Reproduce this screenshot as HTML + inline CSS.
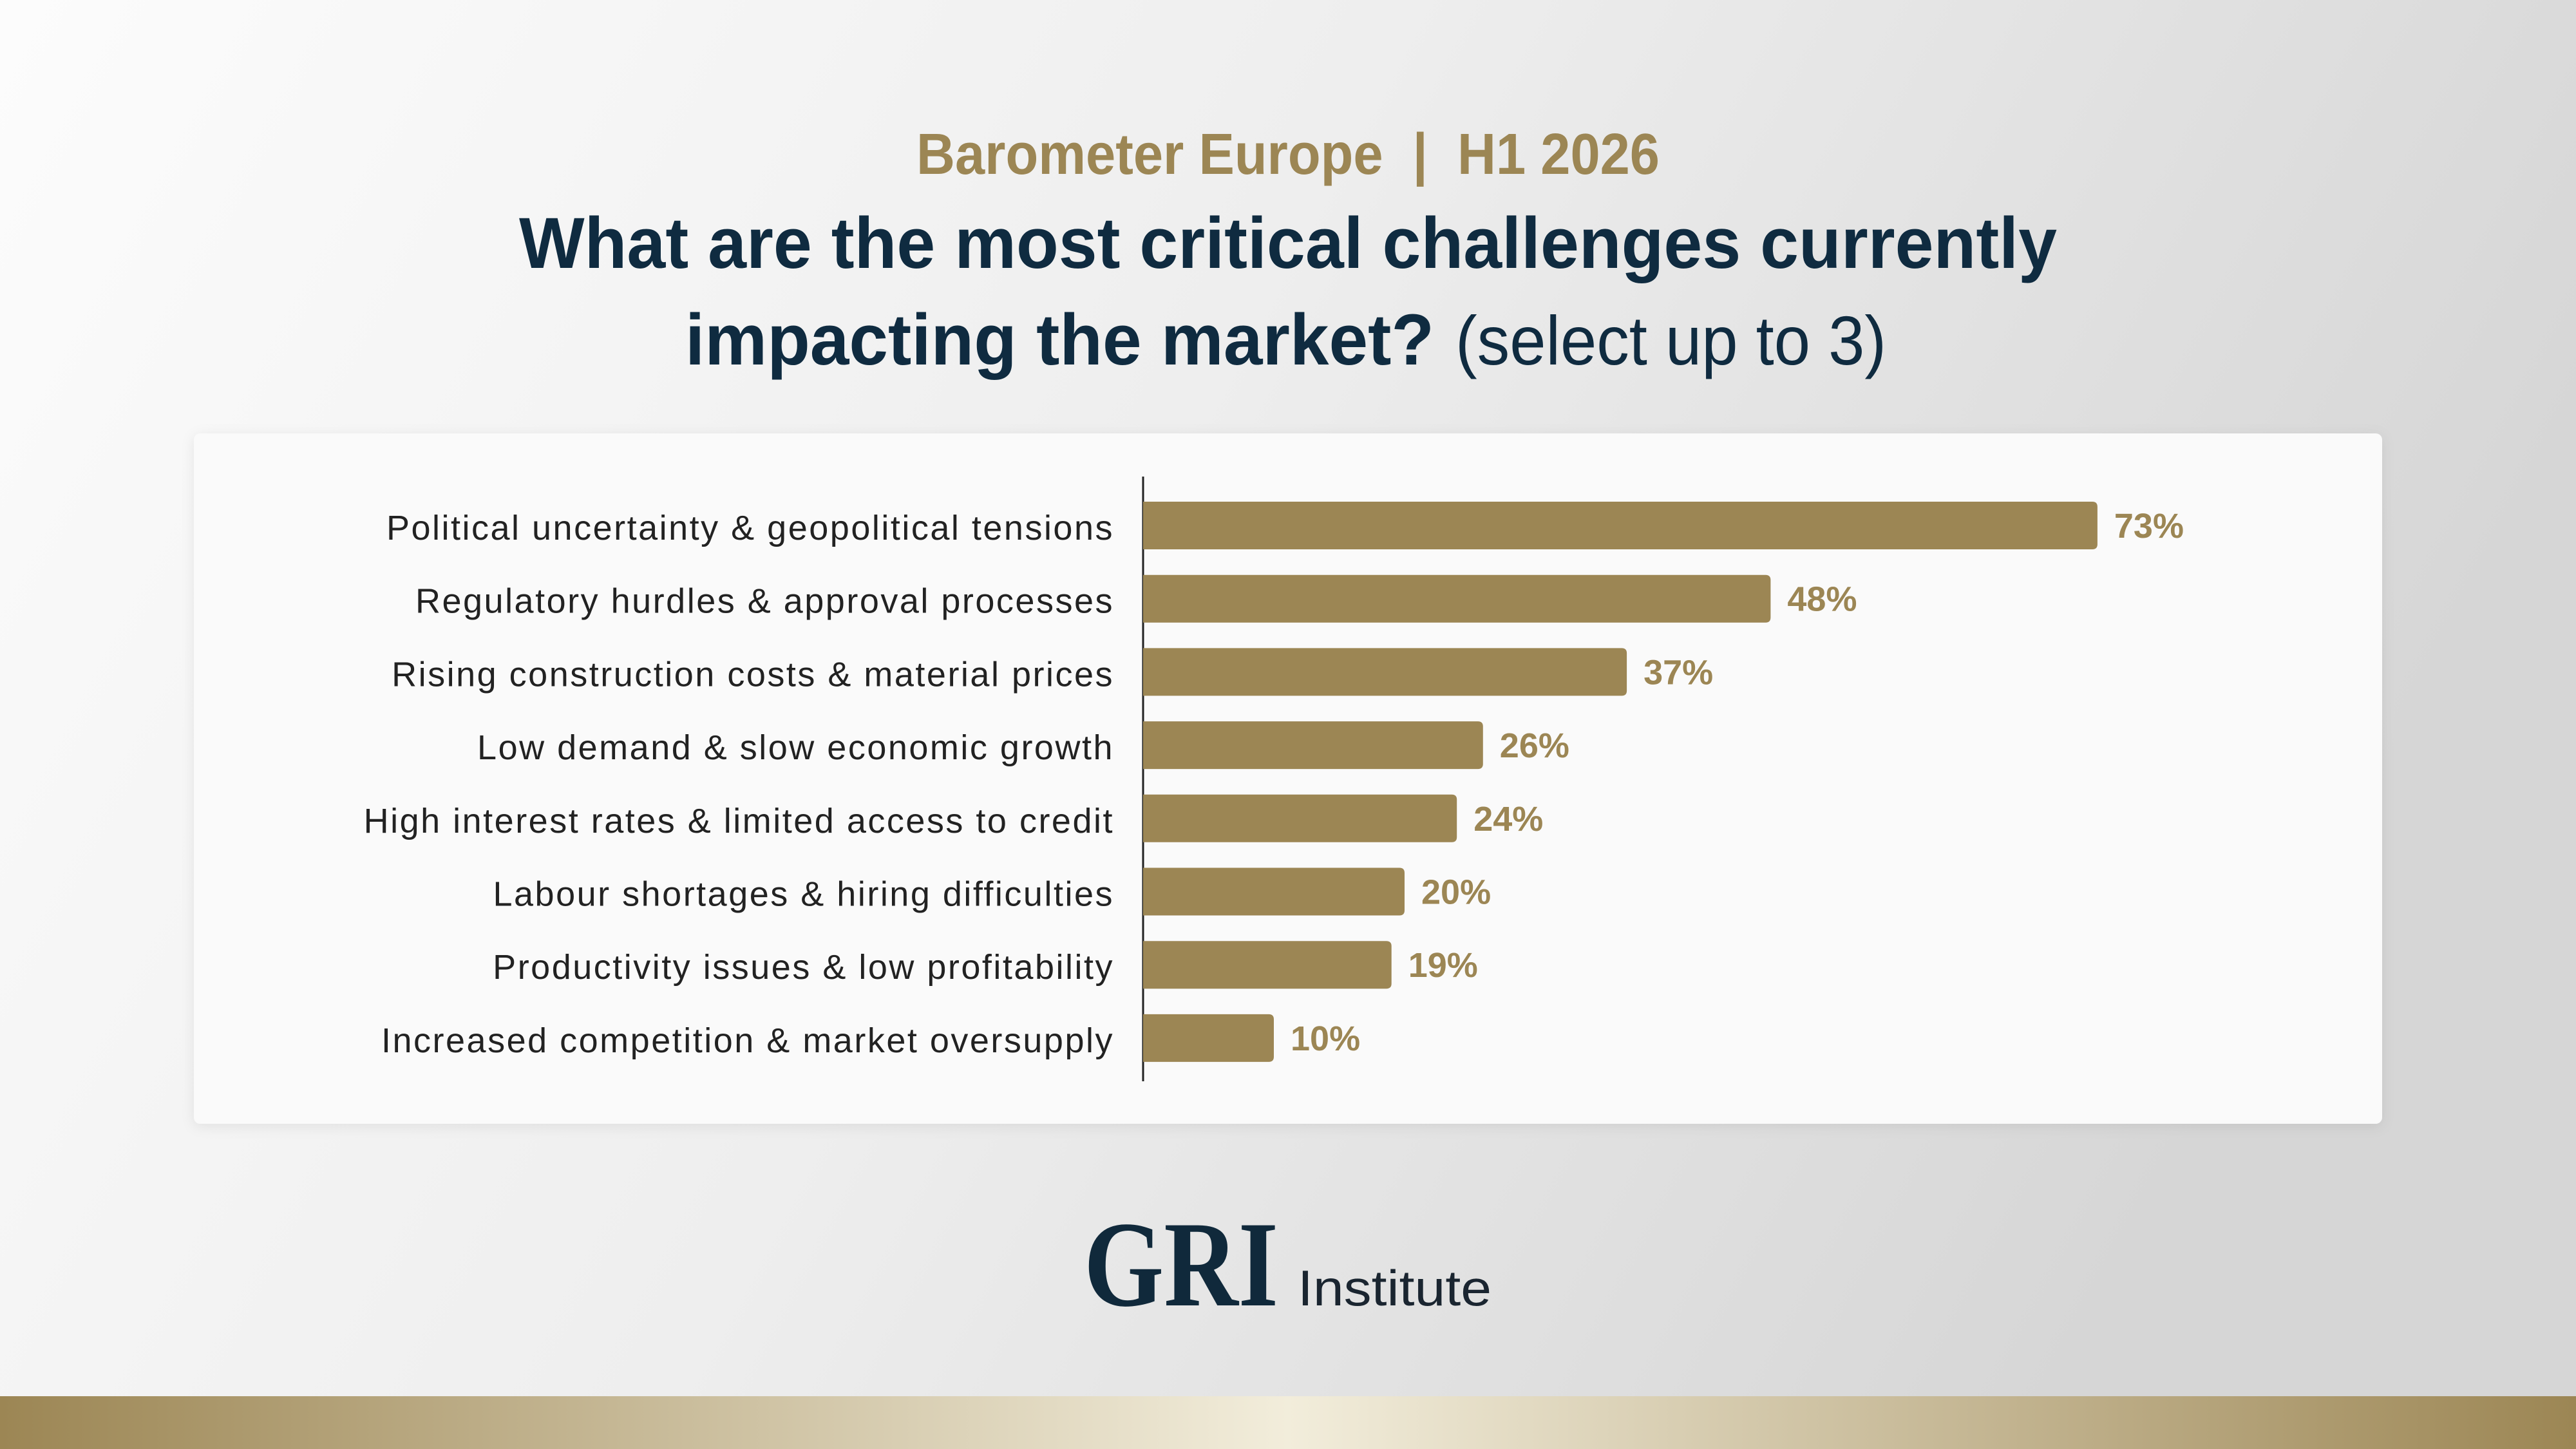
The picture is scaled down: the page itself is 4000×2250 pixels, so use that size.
<!DOCTYPE html>
<html><head><meta charset="utf-8"><style>
html,body{margin:0;padding:0;width:4000px;height:2250px;overflow:hidden}
svg{display:block}
</style></head><body>
<svg width="4000" height="2250" viewBox="0 0 4000 2250" xmlns="http://www.w3.org/2000/svg">
<defs>
<linearGradient id="bg" x1="0" y1="0" x2="1" y2="0.3">
<stop offset="0" stop-color="#fcfcfc"/><stop offset="0.5" stop-color="#eeeeee"/><stop offset="1" stop-color="#d6d6d6"/>
</linearGradient>
<linearGradient id="bar" x1="0" y1="0" x2="1" y2="0">
<stop offset="0" stop-color="#9c8654"/><stop offset="0.5" stop-color="#f2eddb"/><stop offset="1" stop-color="#9c8654"/>
</linearGradient>
<filter id="sh" x="-5%" y="-5%" width="110%" height="115%"><feDropShadow dx="0" dy="4" stdDeviation="10" flood-color="#000" flood-opacity="0.08"/></filter>
</defs>
<rect width="4000" height="2250" fill="url(#bg)"/>
<rect x="0" y="2168" width="4000" height="82" fill="url(#bar)"/>
<text x="2000" y="270" text-anchor="middle" font-family="Liberation Sans, sans-serif" font-weight="bold" font-size="90" fill="#9c8654" textLength="1154" lengthAdjust="spacingAndGlyphs" xml:space="preserve">Barometer Europe  |  H1 2026</text>
<text x="806" y="416" font-family="Liberation Sans, sans-serif" font-weight="bold" font-size="112" fill="#0f2b40" textLength="2388" lengthAdjust="spacingAndGlyphs">What are the most critical challenges currently</text>
<text x="1064" y="566" font-family="Liberation Sans, sans-serif" font-weight="bold" font-size="112" fill="#0f2b40" textLength="1163" lengthAdjust="spacingAndGlyphs">impacting the market?</text>
<text x="2260" y="566" font-family="Liberation Sans, sans-serif" font-size="108" fill="#0f2b40" textLength="669" lengthAdjust="spacingAndGlyphs">(select up to 3)</text>
<rect x="301" y="673" width="3398" height="1072" rx="10" fill="#fafafa" filter="url(#sh)"/>
<g id="plot"></g>
<text x="1683" y="2027" font-family="Liberation Serif, serif" font-weight="bold" font-size="190" fill="#10293b" textLength="302" lengthAdjust="spacingAndGlyphs">GRI</text>
<text x="2015" y="2027" font-family="Liberation Sans, sans-serif" font-size="78" fill="#1a2530" textLength="301" lengthAdjust="spacingAndGlyphs">Institute</text>
</svg>
<script>
const categories=["Political uncertainty & geopolitical tensions","Regulatory hurdles & approval processes","Rising construction costs & material prices","Low demand & slow economic growth","High interest rates & limited access to credit","Labour shortages & hiring difficulties","Productivity issues & low profitability","Increased competition & market oversupply"];
const values=[73,48,37,26,24,20,19,10];
const valueLabels=["73%","48%","37%","26%","24%","20%","19%","10%"];
const NS="http://www.w3.org/2000/svg";
const g=document.getElementById('plot');
const x0=1775, pxPer=20.3;
function xScale(v){return x0+v*pxPer;}
const yStart=816, yStep=113.7, barH=74;
function yScale(i){return yStart+i*yStep;}
function mk(t,a){const e=document.createElementNS(NS,t);for(const k in a)e.setAttribute(k,a[k]);return e;}
const axis=mk('line',{x1:x0,x2:x0,y1:740,y2:1679,stroke:'#222','stroke-width':3});


g.appendChild(axis);
categories.forEach((c,i)=>{
  const cy=yScale(i);
  const xe=xScale(values[i]);
  const r=mk('path',{d:`M${x0},${cy-barH/2} H${xe-8} Q${xe},${cy-barH/2} ${xe},${cy-barH/2+8} V${cy+barH/2-8} Q${xe},${cy+barH/2} ${xe-8},${cy+barH/2} H${x0} Z`,fill:'#9c8654'});
  
  
  g.appendChild(r);
  const l=mk('text',{x:1730,y:cy+22,'text-anchor':'end','font-family':'Liberation Sans, sans-serif','font-size':54,'letter-spacing':2.5,fill:'#222'});
  l.textContent=c;
  
  
  g.appendChild(l);
  const v=mk('text',{x:xe+26,y:cy+19,'font-family':'Liberation Sans, sans-serif','font-weight':'bold','font-size':54,fill:'#9c8654'});
  v.textContent=valueLabels[i];
  
  
  g.appendChild(v);
});
</script>
</body></html>
